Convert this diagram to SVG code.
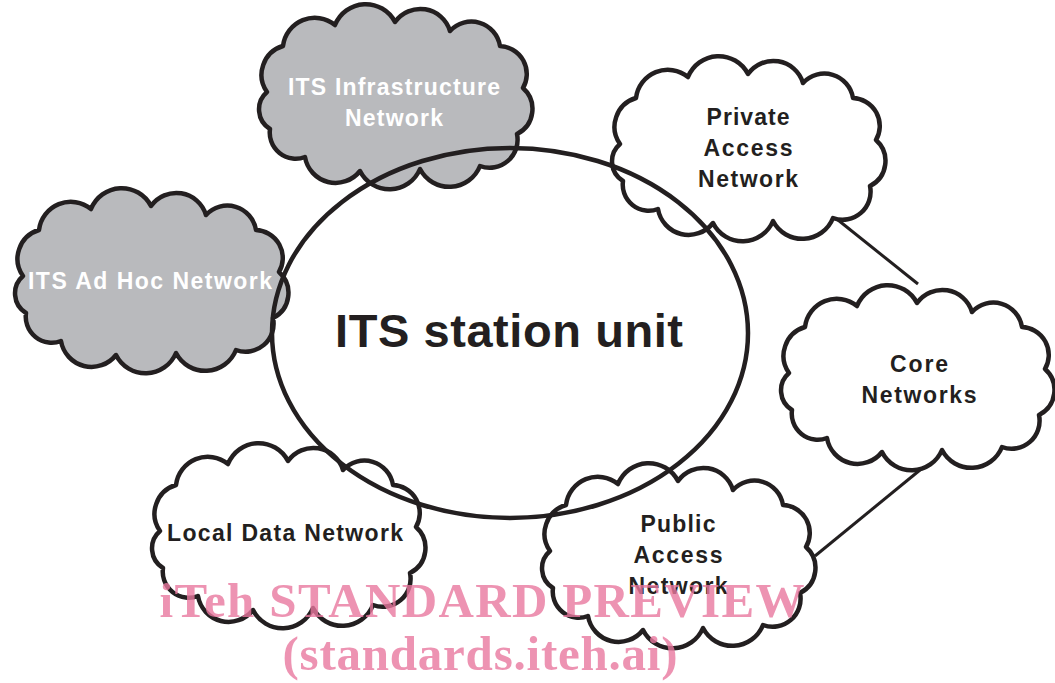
<svg xmlns="http://www.w3.org/2000/svg" xmlns:xlink="http://www.w3.org/1999/xlink" width="1055" height="683" viewBox="0 0 1055 683">
<style>
.cloud{stroke:#231f20;stroke-width:4.5;stroke-linejoin:round}
.gray{fill:#b9babd}
.white{fill:#ffffff}
.lbl{font-family:"Liberation Sans",Arial,sans-serif;font-weight:bold;font-size:23px;text-anchor:middle;fill:#231f20}
.wl{fill:#ffffff}
.conn{stroke:#231f20;stroke-width:3;fill:none}
.wm{font-family:"Liberation Serif","Times New Roman",serif;font-weight:bold;font-size:49px;fill:#e8789f;fill-opacity:0.8;text-anchor:middle}
</style>
<defs>
<path id="cl" d="M-128,-5 A30,30 0 0 1 -112,-51 A32,32 0 0 1 -60,-72 A33,33 0 0 1 0,-75 A31,31 0 0 1 55,-66 A29,29 0 0 1 105,-51 A28,28 0 0 1 128,-9 A28,28 0 0 1 122,37 A28,28 0 0 1 85,69 A33,33 0 0 1 25,72 A33,33 0 0 1 -35,74 A31,31 0 0 1 -90,60 A26,26 0 0 1 -125,32 A23,23 0 0 1 -128,-5 Z"/>
</defs>
<rect width="1055" height="683" fill="#ffffff"/>
<g id="connectors">
<line class="conn" x1="838" y1="220" x2="918" y2="284"/>
<line class="conn" x1="920" y1="470" x2="815" y2="556"/>
</g>
<g id="infra">
<use xlink:href="#cl" href="#cl" class="cloud gray" transform="translate(395,97)"/>
<text class="lbl wl" x="394" y="95" textLength="212" lengthAdjust="spacing">ITS Infrastructure</text>
<text class="lbl wl" x="394" y="126" textLength="98" lengthAdjust="spacing">Network</text>
</g>
<g id="adhoc">
<use xlink:href="#cl" href="#cl" class="cloud gray" transform="translate(151,281)"/>
<text class="lbl wl" x="150" y="289" textLength="244" lengthAdjust="spacing">ITS Ad Hoc Network</text>
</g>
<g id="private">
<use xlink:href="#cl" href="#cl" class="cloud white" transform="translate(748,149)"/>
<text class="lbl" x="748" y="125" textLength="83" lengthAdjust="spacing">Private</text>
<text class="lbl" x="748" y="156" textLength="89" lengthAdjust="spacing">Access</text>
<text class="lbl" x="748" y="187" textLength="100" lengthAdjust="spacing">Network</text>
</g>
<g id="core">
<use xlink:href="#cl" href="#cl" class="cloud white" transform="translate(917,378)"/>
<text class="lbl" x="919" y="372" textLength="58" lengthAdjust="spacing">Core</text>
<text class="lbl" x="919" y="403" textLength="115" lengthAdjust="spacing">Networks</text>
</g>
<g id="local">
<use xlink:href="#cl" href="#cl" class="cloud white" transform="translate(288,536)"/>
<text class="lbl" x="285" y="541" textLength="236" lengthAdjust="spacing">Local Data Network</text>
</g>
<g id="public">
<use xlink:href="#cl" href="#cl" class="cloud white" transform="translate(678,556)"/>
<text class="lbl" x="678" y="532" textLength="75" lengthAdjust="spacing">Public</text>
<text class="lbl" x="678" y="563" textLength="89" lengthAdjust="spacing">Access</text>
<text class="lbl" x="678" y="594" textLength="99" lengthAdjust="spacing">Network</text>
</g>
<g id="station">
<ellipse cx="510" cy="333" rx="238" ry="185" fill="none" stroke="#231f20" stroke-width="4.5"/>
<text x="509" y="347" font-family="'Liberation Sans',Arial,sans-serif" font-weight="bold" font-size="47" text-anchor="middle" fill="#231f20" textLength="348" lengthAdjust="spacing">ITS station unit</text>
</g>
<g id="watermark">
<text class="wm" x="482" y="617" textLength="645" lengthAdjust="spacing">iTeh STANDARD PREVIEW</text>
<text class="wm" x="480" y="670" textLength="395" lengthAdjust="spacing">(standards.iteh.ai)</text>
</g>
</svg>
